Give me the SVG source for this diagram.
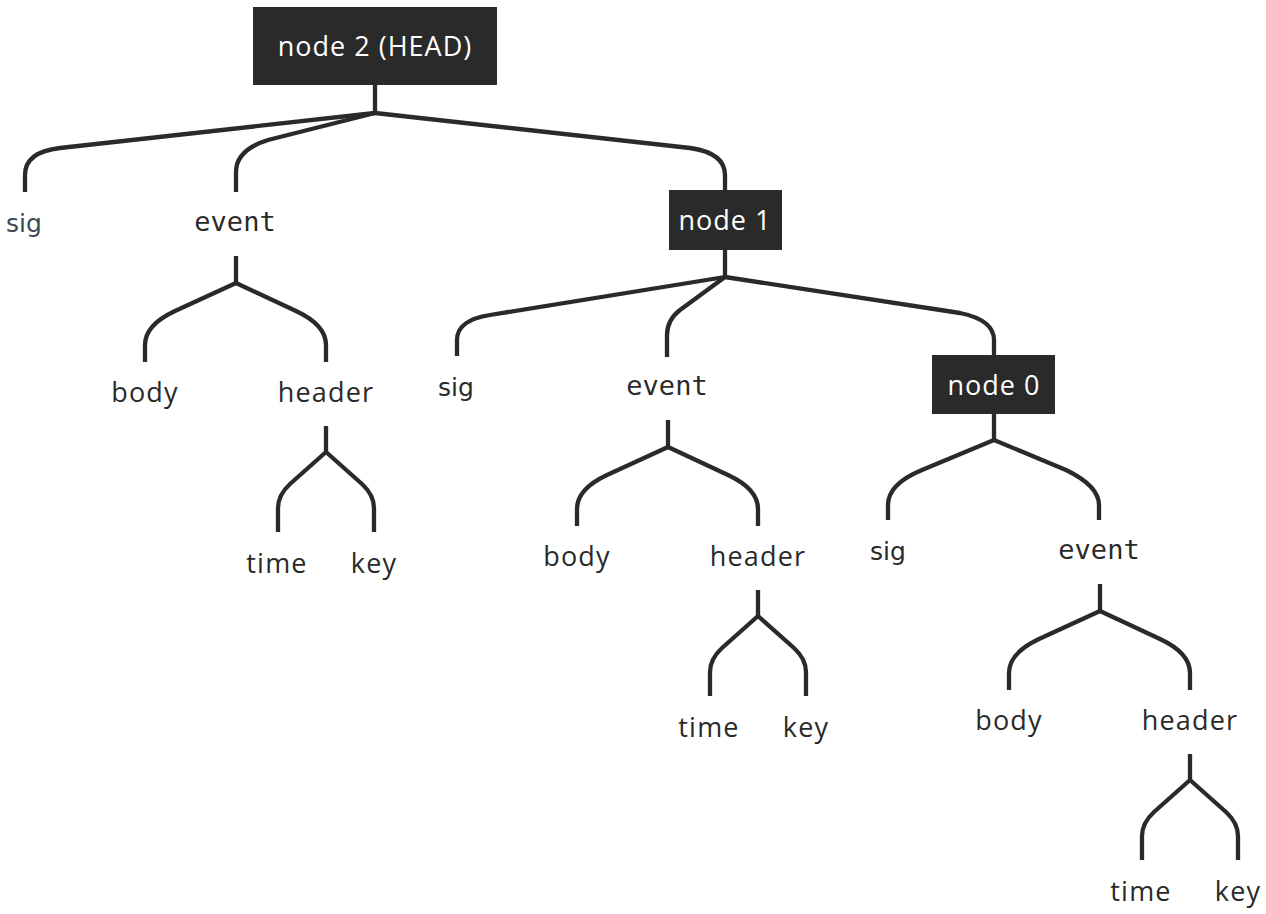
<svg xmlns="http://www.w3.org/2000/svg" width="1266" height="914" viewBox="0 0 1266 914">
<style>
.box{fill:#2a2a2a}
.nt{font-family:"Open Sans","Liberation Sans",sans-serif;font-size:27px;letter-spacing:1px;fill:#ffffff;text-anchor:middle}
.lb{font-family:"Open Sans","Liberation Sans",sans-serif;font-size:27px;letter-spacing:1.2px;fill:#2a2a2a;text-anchor:middle}
.sig{font-family:"DejaVu Sans",sans-serif;font-size:25px;fill:#2a2a2a;text-anchor:middle}
.ev{font-family:"DejaVu Sans Mono",monospace;font-size:27px;fill:#2a2a2a;text-anchor:middle}
.c{fill:none;stroke:#2a2a2a;stroke-width:4.3;stroke-linejoin:round}
</style>
<rect width="1266" height="914" fill="#ffffff"/>
<g id="connectors">
  <path class="c" d="M375,85 L375,113"/>
  <path class="c" d="M375,113 L60,148 Q25,152 25,175 L25,192"/>
  <path class="c" d="M375,113 L268,140 Q236,150 236,172 L236,192"/>
  <path class="c" d="M375,113 L690,148 Q725,153 725,175 L725,191"/>
  <path class="c" d="M725,250 L725,277"/>
  <path class="c" d="M725,277 L490,315 Q457,320 457,340 L457,356"/>
  <path class="c" d="M725,277 L680,310 Q667,320 667,335 L667,357"/>
  <path class="c" d="M725,277 L960,313 Q994,320 994,340 L994,355"/>
  <path class="c" d="M994,414 L994,440"/>
  <path class="c" d="M994,440 L922,470 Q888,484 888,505 L888,520"/>
  <path class="c" d="M994,440 L1066,470 Q1099,486 1099,505 L1099,520"/>
  <g id="sub-a">
    <path class="c" d="M236,256 L236,283"/>
    <path class="c" d="M236,283 L175,311 Q145,325 145,345 L145,362"/>
    <path class="c" d="M236,283 L296,311 Q326,325 326,345 L326,362"/>
    <path class="c" d="M326,426 L326,452"/>
    <path class="c" d="M326,452 L290,484 Q278,495 278,508 L278,532"/>
    <path class="c" d="M326,452 L362,484 Q374,495 374,508 L374,532"/>
  </g>
  <g id="sub-b" transform="translate(432,164)">
    <path class="c" d="M236,256 L236,283"/>
    <path class="c" d="M236,283 L175,311 Q145,325 145,345 L145,362"/>
    <path class="c" d="M236,283 L296,311 Q326,325 326,345 L326,362"/>
    <path class="c" d="M326,426 L326,452"/>
    <path class="c" d="M326,452 L290,484 Q278,495 278,508 L278,532"/>
    <path class="c" d="M326,452 L362,484 Q374,495 374,508 L374,532"/>
  </g>
  <g id="sub-c" transform="translate(864,328)">
    <path class="c" d="M236,256 L236,283"/>
    <path class="c" d="M236,283 L175,311 Q145,325 145,345 L145,362"/>
    <path class="c" d="M236,283 L296,311 Q326,325 326,345 L326,362"/>
    <path class="c" d="M326,426 L326,452"/>
    <path class="c" d="M326,452 L290,484 Q278,495 278,508 L278,532"/>
    <path class="c" d="M326,452 L362,484 Q374,495 374,508 L374,532"/>
  </g>
</g>
<g id="node2"><rect class="box" x="253" y="7" width="244" height="78"/><text class="nt" x="375" y="56">node 2 (HEAD)</text></g>
<g id="node1"><rect class="box" x="669" y="190" width="113" height="60"/><text class="nt" x="725" y="230">node 1</text></g>
<g id="node0"><rect class="box" x="932" y="355" width="123" height="59"/><text class="nt" x="994" y="395">node 0</text></g>
<g id="sig2"><text class="sig" x="24" y="232" style="fill:#3d4855">sig</text></g>
<g id="event2"><text class="ev" x="235" y="231">event</text></g>
<g id="body2"><text class="lb" x="145" y="402">body</text></g>
<g id="header2"><text class="lb" x="326" y="402">header</text></g>
<g id="time2"><text class="lb" x="277" y="573">time</text></g>
<g id="key2"><text class="lb" x="374" y="573">key</text></g>
<g id="sig1"><text class="sig" x="456" y="396">sig</text></g>
<g id="event1"><text class="ev" x="667" y="395">event</text></g>
<g id="body1"><text class="lb" x="577" y="566">body</text></g>
<g id="header1"><text class="lb" x="758" y="566">header</text></g>
<g id="time1"><text class="lb" x="709" y="737">time</text></g>
<g id="key1"><text class="lb" x="806" y="737">key</text></g>
<g id="sig0"><text class="sig" x="888" y="560">sig</text></g>
<g id="event0"><text class="ev" x="1099" y="559">event</text></g>
<g id="body0"><text class="lb" x="1009" y="730">body</text></g>
<g id="header0"><text class="lb" x="1190" y="730">header</text></g>
<g id="time0"><text class="lb" x="1141" y="901">time</text></g>
<g id="key0"><text class="lb" x="1238" y="901">key</text></g>
</svg>
